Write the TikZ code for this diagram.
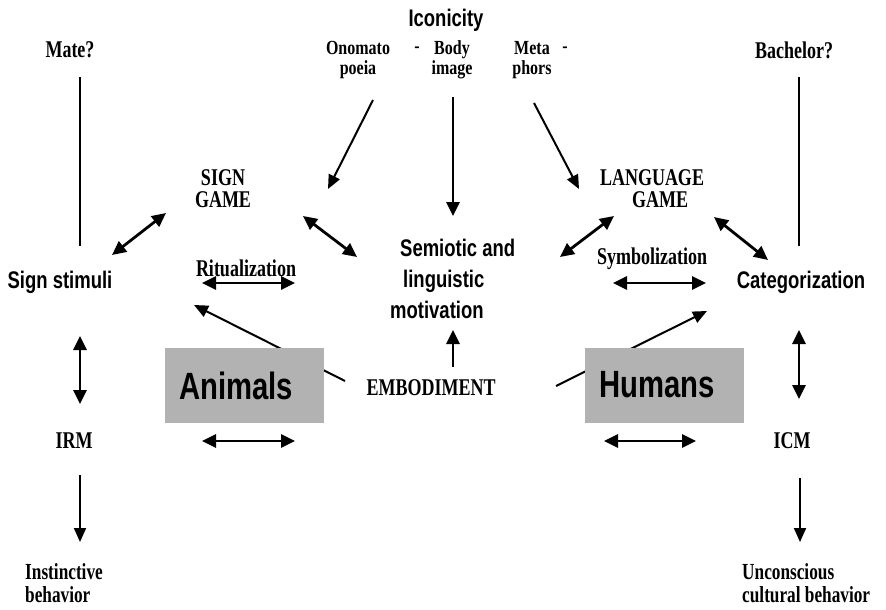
\documentclass[tikz,border=0pt]{standalone}
\usepackage{fontspec}
\usetikzlibrary{arrows.meta}
\newfontfamily\sansb{Liberation Sans}[FakeStretch=0.77]
\newfontfamily\serifb{Liberation Serif}[FakeStretch=0.75]
\newfontfamily\serift{Liberation Serif}[FakeStretch=0.80]
\definecolor{boxgray}{RGB}{178,178,178}
\tikzset{
  sl/.style={inner sep=0pt,font=\sansb\bfseries\fontsize{24}{31}\selectfont},
  big/.style={inner sep=0pt,font=\sansb\bfseries\fontsize{38}{40}\selectfont},
  tl/.style={inner sep=0pt,align=center,font=\serifb\bfseries\fontsize{24}{22}\selectfont},
  toprow/.style={inner sep=0pt,align=center,font=\serift\bfseries\fontsize{20}{20}\selectfont},
  tlL/.style={tl,align=left,font=\serifb\bfseries\fontsize{23}{23}\selectfont},
  tip/.tip={Triangle[length=14pt,width=13pt]},
  ln/.style={line width=2.8pt},
  arr/.style={ln,-tip},
  darr/.style={ln,tip-tip},
  thin/.style={line width=2pt,-{Triangle[length=14pt,width=12pt]}},
  graybox/.style={fill=boxgray,minimum width=159pt,minimum height=75pt,inner sep=0pt}
}
\begin{document}
\begin{tikzpicture}[x=1pt,y=-1pt]
\useasboundingbox (0,0) rectangle (886,610);
% texts
\node[sl] (icon) at (446,20) {Iconicity};
\node[tl] (mate) at (70,50) {Mate?};
\node[tl] (bach) at (794,50) {Bachelor?};
\node[toprow] (ono) at (358,60) {Onomato\\poeia};
\node[toprow] (dashA) at (417,50) {-};
\node[toprow] (body) at (452,60) {Body\\image};
\node[toprow] (meta) at (532,60) {Meta\\phors};
\node[toprow] (dashB) at (565,50) {-};
\node[tl] (sign) at (223,189) {SIGN\\GAME};
\node[tl] (lang) at (652,189) {LANGUAGE\\\hspace*{16pt}GAME};
\node[sl,align=left,anchor=west] (semio) at (390,279) {\hspace*{10pt}Semiotic and\\\hspace*{13pt}linguistic\\motivation};
\node[sl] (stim) at (60,282) {Sign stimuli};
\node[sl] (categ) at (801,282) {Categorization};
\node[tl] (ritual) at (246,268) {Ritualization};
\node[tl] (symb) at (652,259) {Symbolization};
\node[tl] (embod) at (431,388) {EMBODIMENT};
\node[tl] (irm) at (74,441) {IRM};
\node[tl] (icm) at (792,441) {ICM};
\node[tlL,anchor=west] (inst) at (25,583) {Instinctive\\behavior};
\node[tlL,anchor=west] (uncon) at (742,583) {Unconscious\\cultural behavior};
% endpoints
\coordinate (mL1) at (80,77);   \coordinate (mL2) at (80,246);
\coordinate (bR1) at (799,77);  \coordinate (bR2) at (799,246);
\coordinate (o1) at (373,100);  \coordinate (o2) at (328,189);
\coordinate (b1) at (453,97);   \coordinate (b2) at (453,216);
\coordinate (m1) at (534,103);  \coordinate (m2) at (579,189);
\coordinate (d1a) at (112,255); \coordinate (d1b) at (166,213);
\coordinate (d2a) at (303,216); \coordinate (d2b) at (357,257);
\coordinate (d3a) at (560,257); \coordinate (d3b) at (614,216);
\coordinate (d4a) at (714,217); \coordinate (d4b) at (768,260);
\coordinate (r1) at (202,283);  \coordinate (r2) at (295,283);
\coordinate (s1) at (613,283);  \coordinate (s2) at (706,283);
\coordinate (e1) at (453,367);  \coordinate (e2) at (453,330);
\coordinate (eL1) at (345,381); \coordinate (eL2) at (194,305);
\coordinate (eR1) at (556,386); \coordinate (eR2) at (707,311);
\coordinate (v1a) at (80,336);  \coordinate (v1b) at (80,404);
\coordinate (v2a) at (799,330); \coordinate (v2b) at (799,399);
\coordinate (h1a) at (202,441); \coordinate (h1b) at (295,441);
\coordinate (h2a) at (604,441); \coordinate (h2b) at (696,441);
\coordinate (dn1a) at (80,475); \coordinate (dn1b) at (80,542);
\coordinate (dn2a) at (800,478);\coordinate (dn2b) at (800,542);
% connectors
\draw[ln] (mL1) -- (mL2);
\draw[ln] (bR1) -- (bR2);
\draw[thin] (o1) -- (o2);
\draw[arr] (b1) -- (b2);
\draw[thin] (m1) -- (m2);
\draw[darr] (d1a) -- (d1b);
\draw[darr] (d2a) -- (d2b);
\draw[darr] (d3a) -- (d3b);
\draw[darr] (d4a) -- (d4b);
\draw[darr] (r1) -- (r2);
\draw[darr] (s1) -- (s2);
\draw[arr] (e1) -- (e2);
\draw[thin] (eL1) -- (eL2);
\draw[thin] (eR1) -- (eR2);
\draw[darr] (v1a) -- (v1b);
\draw[darr] (v2a) -- (v2b);
\draw[darr] (h1a) -- (h1b);
\draw[darr] (h2a) -- (h2b);
\draw[thin] (dn1a) -- (dn1b);
\draw[thin] (dn2a) -- (dn2b);
% boxes (on top of the embodiment lines)
\node[graybox] (animals) at (244.5,385.5) {};
\node[big] (animalsT) at (236,386) {Animals};
\node[graybox] (humans) at (664.5,385.5) {};
\node[big] (humansT) at (657,385) {Humans};
\end{tikzpicture}
\end{document}
